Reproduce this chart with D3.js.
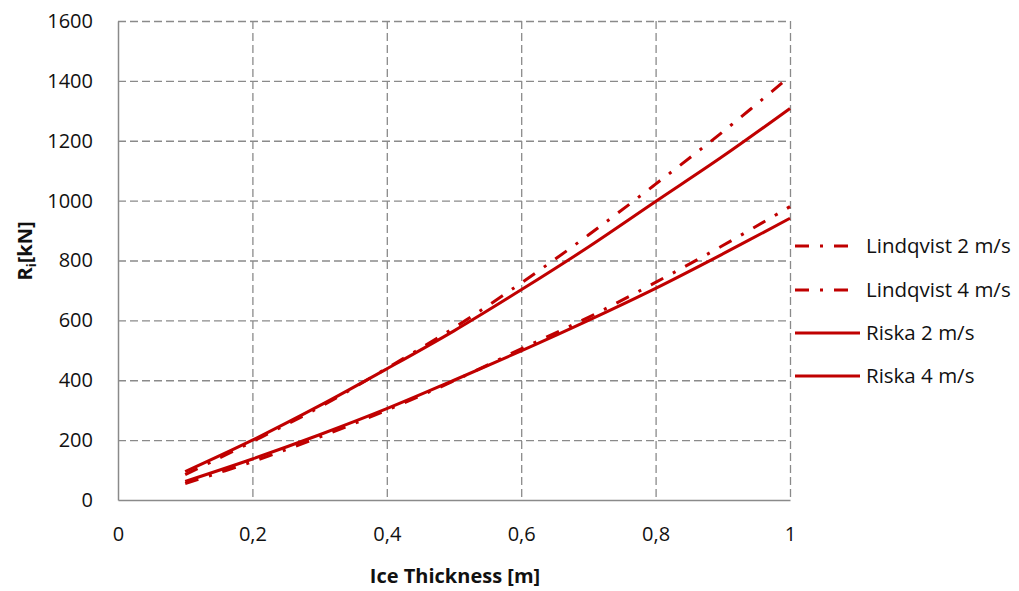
<!DOCTYPE html>
<html>
<head>
<meta charset="utf-8">
<script src="https://cdn.jsdelivr.net/npm/d3@7"></script>
<style>
  html, body { margin: 0; padding: 0; background: #fff; }
  svg { display: block; font-family: "Open Sans", "Noto Sans", sans-serif; }
</style>
</head>
<body>
<svg id="chart" width="1019" height="591"></svg>
<script>
// ---- data ----
const thickness = [0.1, 0.2, 0.3, 0.4, 0.5, 0.6, 0.7, 0.8, 0.9, 1.0];
const lindqvist2 = [55, 128, 210, 300, 398, 505, 610, 727, 850, 980];
const lindqvist4 = [85, 195, 310, 440, 575, 725, 885, 1055, 1230, 1415];
const riska2 = [62, 137, 218, 305, 400, 498, 600, 707, 822, 941];
const riska4 = [95, 200, 315, 438, 565, 702, 845, 997, 1148, 1308];
const seriesNames = ["Lindqvist 2 m/s", "Lindqvist 4 m/s", "Riska 2 m/s", "Riska 4 m/s"];
const xTicks = [0, 0.2, 0.4, 0.6, 0.8, 1];
const yTicks = [0, 200, 400, 600, 800, 1000, 1200, 1400, 1600];
const xTitle = "Ice Thickness [m]";

(function () {
// ---- layout ----
const svg = d3.select("#chart");
const pLeft = 118, pRight = 790, pTop = 21, pBottom = 500;
const red = "#C00000";
const gridColor = "#8a8a8a";

const x = d3.scaleLinear().domain([0, 1]).range([pLeft, pRight]);
const y = d3.scaleLinear().domain([0, 1600]).range([pBottom, pTop]);

const locale = d3.formatLocale({decimal: ",", thousands: "", grouping: [3], currency: ["", ""]});
const fmtX = locale.format("~g");

// gridlines
const grid = svg.append("g");
grid.selectAll("line.h").data(yTicks.filter(d => d > 0)).join("line")
  .attr("x1", pLeft).attr("x2", pRight)
  .attr("y1", d => y(d) + 0.5).attr("y2", d => y(d) + 0.5)
  .attr("stroke", gridColor).attr("stroke-width", 1.3)
  .attr("stroke-dasharray", "8 4");
grid.selectAll("line.v").data(xTicks.filter(d => d > 0)).join("line")
  .attr("y1", pTop).attr("y2", pBottom)
  .attr("x1", d => x(d) + 0.5).attr("x2", d => x(d) + 0.5)
  .attr("stroke", gridColor).attr("stroke-width", 1.3)
  .attr("stroke-dasharray", "8 4");

// axes
const yAxis = d3.axisLeft(y).tickValues(yTicks).tickSize(0).tickPadding(25).tickFormat(d3.format("d"));
const gy = svg.append("g").attr("transform", `translate(${pLeft},0)`).call(yAxis);
gy.select(".domain").attr("stroke", gridColor).attr("stroke-width", 1.5);
gy.selectAll("text").attr("font-size", 20).attr("fill", "#111").attr("font-family", "'Open Sans', sans-serif");

const xAxis = d3.axisBottom(x).tickValues(xTicks).tickSize(0).tickPadding(27).tickFormat(fmtX);
const gx = svg.append("g").attr("transform", `translate(0,${pBottom})`).call(xAxis);
gx.select(".domain").attr("stroke", gridColor).attr("stroke-width", 1.5);
gx.selectAll("text").attr("font-size", 20).attr("fill", "#111").attr("font-family", "'Open Sans', sans-serif");

// axis titles
svg.append("text")
  .attr("x", (pLeft + pRight) / 2 + 1).attr("y", 583)
  .attr("text-anchor", "middle").attr("font-size", 20).attr("font-weight", "bold").attr("fill", "#111")
  .text(xTitle);

const yt = svg.append("text")
  .attr("transform", `translate(32,251) rotate(-90)`)
  .attr("text-anchor", "middle").attr("font-size", 20).attr("font-weight", "bold").attr("fill", "#111");
yt.append("tspan").text("R");
yt.append("tspan").attr("font-size", 13).attr("dy", 4).text("i");
yt.append("tspan").attr("dy", -4).text("[kN]");

// series
const series = [
  {name: seriesNames[0], values: lindqvist2, dash: "14 11 3 11"},
  {name: seriesNames[1], values: lindqvist4, dash: "14 11 3 11"},
  {name: seriesNames[2], values: riska2, dash: null},
  {name: seriesNames[3], values: riska4, dash: null}
];
const line = d3.line()
  .x((d, i) => x(thickness[i]))
  .y(d => y(d))
  .curve(d3.curveCatmullRom.alpha(0.5));

svg.append("g").selectAll("path").data(series).join("path")
  .attr("d", d => line(d.values))
  .attr("fill", "none")
  .attr("stroke", red)
  .attr("stroke-width", 3)
  .attr("stroke-dasharray", d => d.dash);

// legend
const legendY = [246, 290, 333, 376];
const lg = svg.append("g");
series.forEach((s, i) => {
  lg.append("line")
    .attr("x1", 795).attr("x2", s.dash ? 850 : 860)
    .attr("y1", legendY[i]).attr("y2", legendY[i])
    .attr("stroke", red).attr("stroke-width", 3)
    .attr("stroke-dasharray", s.dash);
  lg.append("text")
    .attr("x", 866).attr("y", legendY[i]).attr("dy", "0.35em")
    .attr("font-size", 20.5).attr("fill", "#111")
    .text(s.name);
});
})();
</script>
</body>
</html>
